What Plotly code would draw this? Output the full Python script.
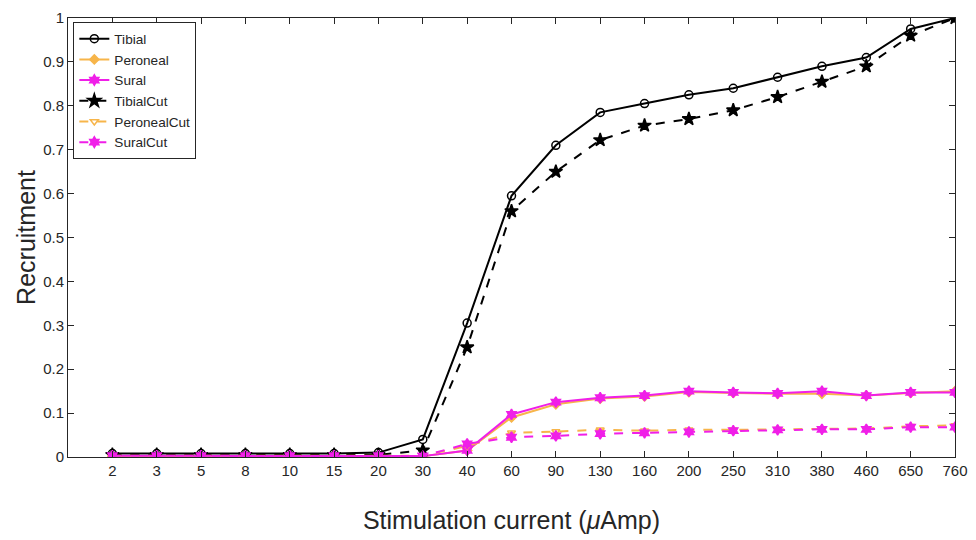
import plotly.graph_objects as go

categories = ["2", "3", "5", "8", "10", "15", "20", "30", "40", "60", "90", "130",
              "160", "200", "250", "310", "380", "460", "650", "760"]

tibial = [0.008, 0.008, 0.008, 0.008, 0.008, 0.008, 0.01, 0.04, 0.305, 0.595, 0.71, 0.785,
          0.805, 0.825, 0.84, 0.865, 0.89, 0.91, 0.975, 1.0]
peroneal = [0.002, 0.002, 0.002, 0.002, 0.002, 0.002, 0.002, 0.002, 0.015, 0.09, 0.12, 0.133,
            0.138, 0.148, 0.146, 0.144, 0.144, 0.14, 0.146, 0.15]
sural = [0.003, 0.003, 0.003, 0.003, 0.003, 0.003, 0.003, 0.002, 0.015, 0.097, 0.125, 0.135,
         0.14, 0.15, 0.147, 0.145, 0.15, 0.14, 0.147, 0.147]
tibial_cut = [0.005, 0.005, 0.005, 0.005, 0.005, 0.005, 0.005, 0.015, 0.25, 0.56, 0.65, 0.722,
              0.755, 0.77, 0.79, 0.82, 0.855, 0.89, 0.96, 1.0]
peroneal_cut = [0.003, 0.003, 0.003, 0.003, 0.003, 0.003, 0.003, 0.003, 0.025, 0.055, 0.058, 0.062,
                0.06, 0.062, 0.062, 0.063, 0.063, 0.065, 0.07, 0.072]
sural_cut = [0.003, 0.003, 0.003, 0.003, 0.003, 0.003, 0.003, 0.002, 0.03, 0.045, 0.048, 0.053,
             0.055, 0.057, 0.06, 0.062, 0.063, 0.063, 0.068, 0.068]

ORANGE = "#F7B54A"
MAGENTA = "#F01FE8"

series = [
    ("Tibial", tibial, "black", "solid", "circle-open", 8),
    ("Peroneal", peroneal, ORANGE, "solid", "diamond", 7),
    ("Sural", sural, MAGENTA, "solid", "hexagram", 8),
    ("TibialCut", tibial_cut, "black", "dash", "star", 10),
    ("PeronealCut", peroneal_cut, ORANGE, "dash", "triangle-down-open", 7),
    ("SuralCut", sural_cut, MAGENTA, "dash", "hexagram", 8),
]

fig = go.Figure()
for name, vals, color, dash, symbol, size in series:
    fig.add_trace(go.Scatter(
        x=categories, y=vals, name=name, mode="lines+markers",
        line=dict(color=color, width=2, dash=dash),
        marker=dict(symbol=symbol, size=size, color=color,
                    line=dict(color=color, width=1.5)),
    ))

FONT = "Arial, Liberation Sans, sans-serif"
axis_common = dict(
    showline=True, linecolor="#262626", linewidth=1, mirror="ticks",
    ticks="inside", ticklen=6, tickcolor="#262626", showgrid=False, zeroline=False,
    tickfont=dict(family=FONT, size=15, color="#262626"),
)

fig.update_layout(
    width=976, height=540,
    margin=dict(l=68, r=21, t=18, b=83),
    paper_bgcolor="white", plot_bgcolor="white",
    font=dict(family=FONT, color="#262626"),
    xaxis=dict(**axis_common, type="category", range=[-1, 19], automargin=False,
               title=dict(text="Stimulation current (<i>μ</i>Amp)",
                          font=dict(size=25, color="#262626"), standoff=33)),
    yaxis=dict(**axis_common, range=[0, 1], dtick=0.1, tickformat="~g", automargin=False,
               title=dict(text="Recruitment", font=dict(size=25, color="#262626"), standoff=0)),
    legend=dict(x=0.006, y=0.99, xanchor="left", yanchor="top",
                bgcolor="white", bordercolor="#262626", borderwidth=1,
                font=dict(size=13.6, color="#262626"), tracegroupgap=0,
                itemwidth=30),
    showlegend=True,
)

fig.write_html("out.html",
               config={"displayModeBar": False},
               post_script="document.body.style.margin='0';document.body.style.overflow='hidden';")
